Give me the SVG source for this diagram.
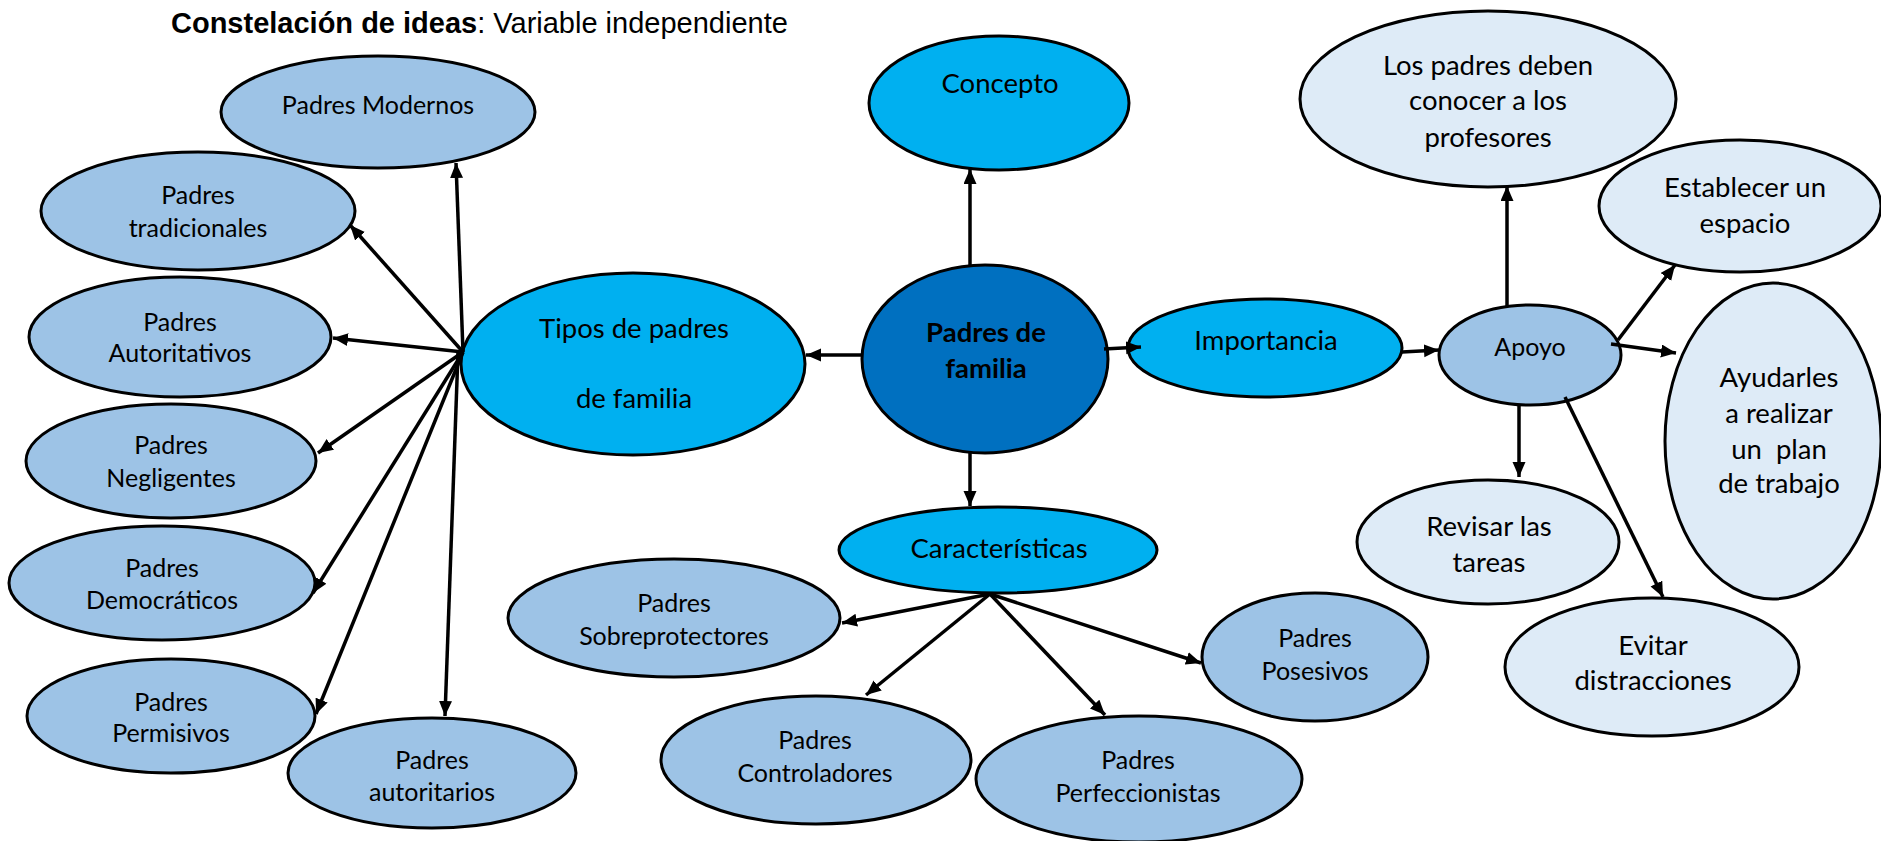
<svg xmlns="http://www.w3.org/2000/svg" width="1881" height="841" viewBox="0 0 1881 841">
<style>
.n ellipse{stroke:#000;stroke-width:3}
.lb{fill:#9DC3E6}.cy{fill:#00B0F0}.dk{fill:#0070C0}.pl{fill:#DEEBF7}
text{font-family:Lato,"Open Sans","Noto Sans",sans-serif;font-size:25px;fill:#000;text-anchor:middle}
.g text{font-size:27.5px}
.b{font-weight:bold}
.title{font-family:"Liberation Sans",Arial,sans-serif;font-size:29px;text-anchor:start}
#connectors line{stroke:#000;stroke-width:3.5;marker-end:url(#ah)}
</style>
<defs>
<marker id="ah" markerUnits="userSpaceOnUse" markerWidth="16" markerHeight="14" refX="15" refY="6.5" orient="auto">
<path d="M0,0 L15,6.5 L0,13 Z" fill="#000"/>
</marker>
</defs>
<rect width="1881" height="841" fill="#fff"/>
<text class="title" x="171" y="33"><tspan font-weight="bold">Constelación de ideas</tspan>: Variable independiente</text>

<g id="n-modernos" class="n"><ellipse class="lb" cx="378" cy="112" rx="157" ry="56"/><text x="378" y="114">Padres Modernos</text></g>
<g id="n-tradicionales" class="n"><ellipse class="lb" cx="198" cy="211" rx="157" ry="59"/><text x="198" y="204">Padres</text><text x="198" y="237">tradicionales</text></g>
<g id="n-autoritativos" class="n"><ellipse class="lb" cx="180" cy="337" rx="151" ry="60"/><text x="180" y="331">Padres</text><text x="180" y="362">Autoritativos</text></g>
<g id="n-negligentes" class="n"><ellipse class="lb" cx="171" cy="461" rx="145" ry="57"/><text x="171" y="454">Padres</text><text x="171" y="487">Negligentes</text></g>
<g id="n-democraticos" class="n"><ellipse class="lb" cx="162" cy="583" rx="153" ry="57"/><text x="162" y="577">Padres</text><text x="162" y="609">Democráticos</text></g>
<g id="n-permisivos" class="n"><ellipse class="lb" cx="171" cy="716" rx="144" ry="57"/><text x="171" y="711">Padres</text><text x="171" y="742">Permisivos</text></g>
<g id="n-autoritarios" class="n"><ellipse class="lb" cx="432" cy="773" rx="144" ry="55"/><text x="432" y="769">Padres</text><text x="432" y="801">autoritarios</text></g>
<g id="n-tipos" class="n g"><ellipse class="cy" cx="633" cy="364" rx="172" ry="91"/><text x="634" y="338">Tipos de padres</text><text x="634" y="408">de familia</text></g>
<g id="n-padres" class="n g"><ellipse class="dk" cx="985" cy="359" rx="123" ry="94"/><text class="b" x="986" y="342">Padres de</text><text class="b" x="986" y="378">familia</text></g>
<g id="n-concepto" class="n g"><ellipse class="cy" cx="999" cy="103" rx="130" ry="67"/><text x="1000" y="93">Concepto</text></g>
<g id="n-importancia" class="n g"><ellipse class="cy" cx="1265" cy="348" rx="137" ry="49"/><text x="1266" y="350">Importancia</text></g>
<g id="n-apoyo" class="n"><ellipse class="lb" cx="1530" cy="355" rx="91" ry="50"/><text x="1530" y="356">Apoyo</text></g>
<g id="n-conocer" class="n g"><ellipse class="pl" cx="1488" cy="99" rx="188" ry="88"/><text x="1488" y="75">Los padres deben</text><text x="1488" y="110">conocer a los</text><text x="1488" y="147">profesores</text></g>
<g id="n-espacio" class="n g"><ellipse class="pl" cx="1740" cy="206" rx="141" ry="66"/><text x="1745" y="197">Establecer un</text><text x="1745" y="233">espacio</text></g>
<g id="n-plan" class="n g"><ellipse class="pl" cx="1773" cy="441" rx="108" ry="158"/><text x="1779" y="387">Ayudarles</text><text x="1779" y="423">a realizar</text><text x="1779" y="459" xml:space="preserve">un  plan</text><text x="1779" y="493">de trabajo</text></g>
<g id="n-revisar" class="n g"><ellipse class="pl" cx="1488" cy="542" rx="131" ry="62"/><text x="1489" y="536">Revisar las</text><text x="1489" y="572">tareas</text></g>
<g id="n-evitar" class="n g"><ellipse class="pl" cx="1652" cy="667" rx="147" ry="69"/><text x="1653" y="655">Evitar</text><text x="1653" y="690">distracciones</text></g>
<g id="n-caracteristicas" class="n g"><ellipse class="cy" cx="998" cy="550" rx="159" ry="43"/><text x="999" y="558">Características</text></g>
<g id="n-sobreprotectores" class="n"><ellipse class="lb" cx="674" cy="618" rx="166" ry="59"/><text x="674" y="612">Padres</text><text x="674" y="645">Sobreprotectores</text></g>
<g id="n-controladores" class="n"><ellipse class="lb" cx="816" cy="760" rx="155" ry="64"/><text x="815" y="749">Padres</text><text x="815" y="782">Controladores</text></g>
<g id="n-perfeccionistas" class="n"><ellipse class="lb" cx="1139" cy="779" rx="163" ry="63"/><text x="1138" y="769">Padres</text><text x="1138" y="802">Perfeccionistas</text></g>
<g id="n-posesivos" class="n"><ellipse class="lb" cx="1315" cy="657" rx="113" ry="64"/><text x="1315" y="647">Padres</text><text x="1315" y="680">Posesivos</text></g>

<g id="connectors">
<line x1="463" y1="352" x2="456" y2="163"/>
<line x1="463" y1="352" x2="350" y2="225"/>
<line x1="463" y1="352" x2="333" y2="338"/>
<line x1="463" y1="352" x2="318" y2="453"/>
<line x1="463" y1="352" x2="313" y2="593"/>
<line x1="463" y1="352" x2="316" y2="714"/>
<line x1="458" y1="352" x2="445" y2="716"/>
<line x1="862" y1="355" x2="806" y2="355"/>
<line x1="970" y1="266" x2="970" y2="169"/>
<line x1="1104" y1="349" x2="1141" y2="347"/>
<line x1="1402" y1="352" x2="1439" y2="350"/>
<line x1="1507" y1="306" x2="1507" y2="186"/>
<line x1="1618" y1="340" x2="1675" y2="265"/>
<line x1="1611" y1="344" x2="1676" y2="353"/>
<line x1="1519" y1="405" x2="1519" y2="477"/>
<line x1="1565" y1="397" x2="1663" y2="597"/>
<line x1="970" y1="453" x2="970" y2="506"/>
<line x1="990" y1="594" x2="842" y2="623"/>
<line x1="990" y1="594" x2="866" y2="695"/>
<line x1="990" y1="594" x2="1105" y2="715"/>
<line x1="990" y1="594" x2="1201" y2="663"/>
</g>
</svg>
